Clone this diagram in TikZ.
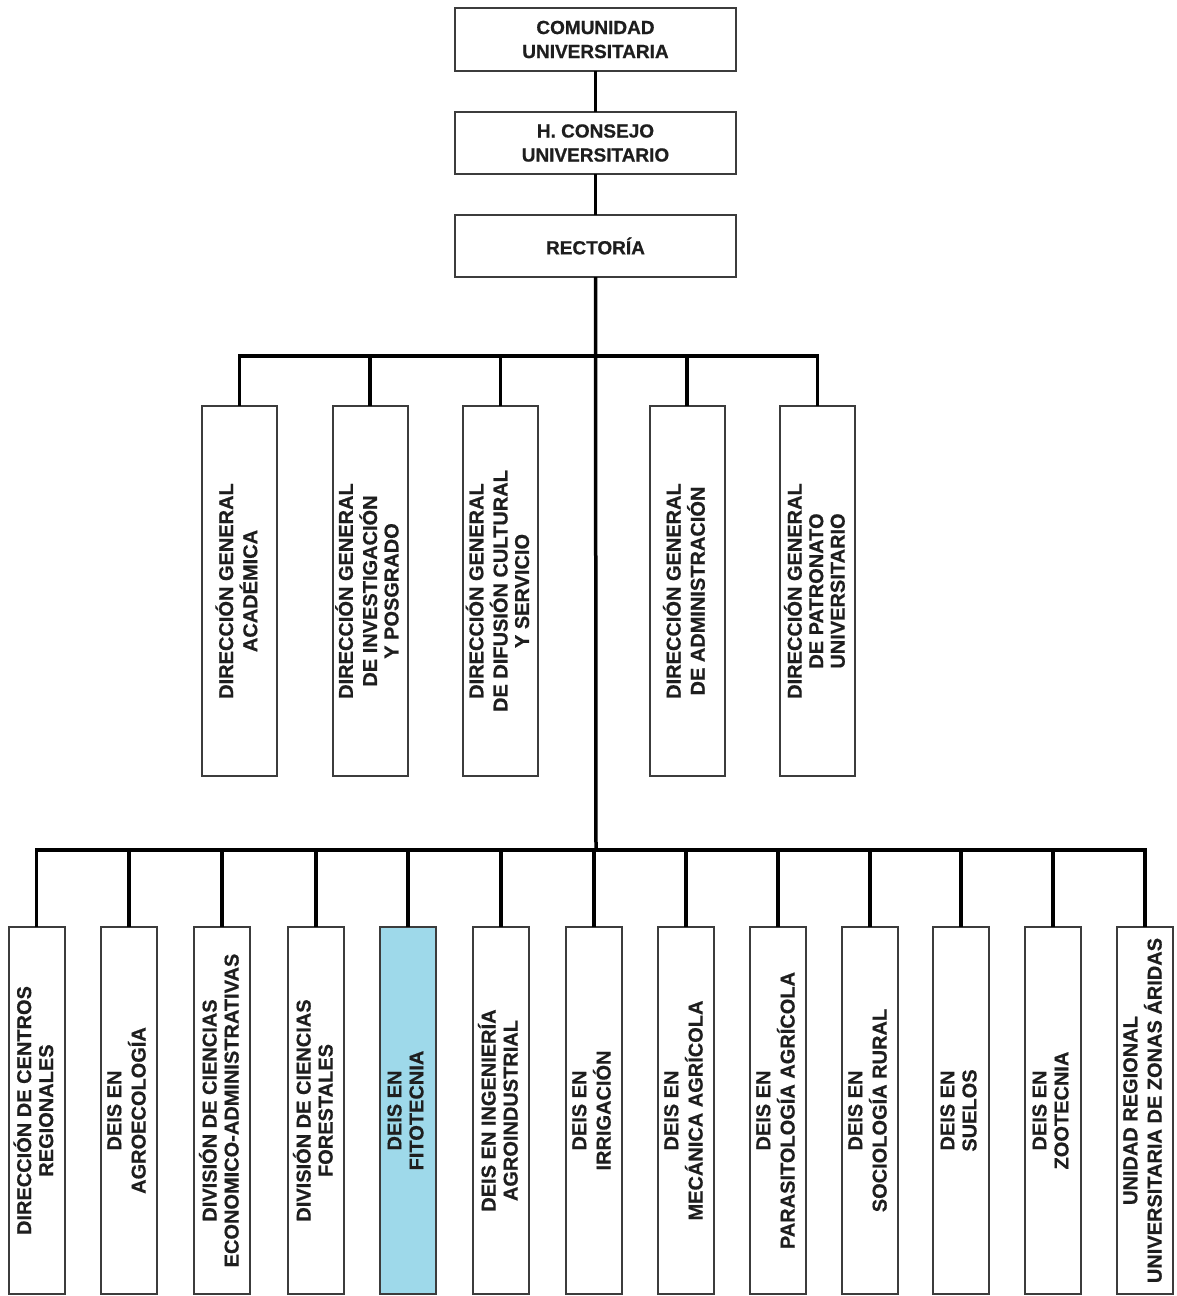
\documentclass[tikz,border=0pt]{standalone}
\usepackage{fontspec}
\setmainfont{Liberation Sans}[BoldFeatures={FakeBold=0.6}]
\usepackage{graphicx}
\definecolor{boxline}{HTML}{3C3C3C}
\definecolor{txt}{HTML}{1E1E1E}
\definecolor{fito}{HTML}{9ED9EA}
\newcommand\vtext[1]{\rotatebox{90}{\begin{tabular}{@{}c@{}}#1\end{tabular}}}
\begin{document}
\begin{tikzpicture}[x=1pt,y=-1pt,
  box/.style={draw=boxline,line width=2pt,fill=white,inner sep=0pt,outer sep=0pt,text=txt},
  topbox/.style={box,minimum width=281pt,minimum height=62pt,align=center,
     font=\bfseries\fontsize{19}{24}\selectfont},
  midbox/.style={box,minimum width=75pt,minimum height=370pt,
     font=\bfseries\fontsize{20}{21.5}\selectfont},
  botbox/.style={box,minimum width=56pt,minimum height=367pt,
     font=\bfseries\fontsize{20}{22}\selectfont},
  conn/.style={draw=black,line width=3.5pt}]
\useasboundingbox (0,0) rectangle (1176,1296);

% trunk boxes
\node[topbox,minimum height=63pt] (cu) at (595.5,39.5) {COMUNIDAD\\UNIVERSITARIA};
\node[topbox] (hc) at (595.5,143) {H. CONSEJO\\UNIVERSITARIO};
\node[topbox] (re) at (595.5,246) {RECTORÍA};

% middle row
\node[midbox] (m1) at (239.5,591) {\vtext{DIRECCIÓN GENERAL\\ACADÉMICA}};
\node[midbox] (m2) at (370,591) {\vtext{DIRECCIÓN GENERAL\\DE INVESTIGACIÓN\\Y POSGRADO}};
\node[midbox] (m3) at (500.5,591) {\vtext{DIRECCIÓN GENERAL\\DE DIFUSIÓN CULTURAL\\Y SERVICIO}};
\node[midbox] (m4) at (687,591) {\vtext{DIRECCIÓN GENERAL\\DE ADMINISTRACIÓN}};
\node[midbox] (m5) at (817.5,591) {\vtext{DIRECCIÓN GENERAL\\DE PATRONATO\\UNIVERSITARIO}};

% bottom row
\node[botbox] (b1) at (36.5,1110.5) {\vtext{DIRECCIÓN DE CENTROS\\REGIONALES}};
\node[botbox] (b2) at (129,1110.5) {\vtext{DEIS EN\\AGROECOLOGÍA}};
\node[botbox] (b3) at (222,1110.5) {\vtext{DIVISIÓN DE CIENCIAS\\ECONOMICO-ADMINISTRATIVAS}};
\node[botbox] (b4) at (316,1110.5) {\vtext{DIVISIÓN DE CIENCIAS\\FORESTALES}};
\node[botbox,fill=fito] (b5) at (408,1110.5) {\vtext{DEIS EN\\FITOTECNIA}};
\node[botbox] (b6) at (501,1110.5) {\vtext{DEIS EN INGENIERÍA\\AGROINDUSTRIAL}};
\node[botbox] (b7) at (594,1110.5) {\vtext{DEIS EN\\IRRIGACIÓN}};
\node[botbox] (b8) at (686,1110.5) {\vtext{DEIS EN\\MECÁNICA AGRÍCOLA}};
\node[botbox] (b9) at (778,1110.5) {\vtext{DEIS EN\\PARASITOLOGÍA AGRÍCOLA}};
\node[botbox] (b10) at (870,1110.5) {\vtext{DEIS EN\\SOCIOLOGÍA RURAL}};
\node[botbox] (b11) at (961,1110.5) {\vtext{DEIS EN\\SUELOS}};
\node[botbox] (b12) at (1053,1110.5) {\vtext{DEIS EN\\ZOOTECNIA}};
\node[botbox] (b13) at (1145,1110.5) {\vtext{UNIDAD REGIONAL\\UNIVERSITARIA DE ZONAS ÁRIDAS}};

% hubs
\coordinate (h1) at (596,356);
\coordinate (h2) at (596,850);

% connectors
\draw[conn] (cu.south) -- (hc.north);
\draw[conn] (hc.south) -- (re.north);
\draw[conn] (re.south) -- (h2);
\foreach \m in {m1,m2,m3,m4,m5} \draw[conn] (h1) -| (\m.north);
\foreach \b in {b1,b2,b3,b4,b5,b6,b7,b8,b9,b10,b11,b12,b13} \draw[conn] (h2) -| (\b.north);
\end{tikzpicture}
\end{document}
